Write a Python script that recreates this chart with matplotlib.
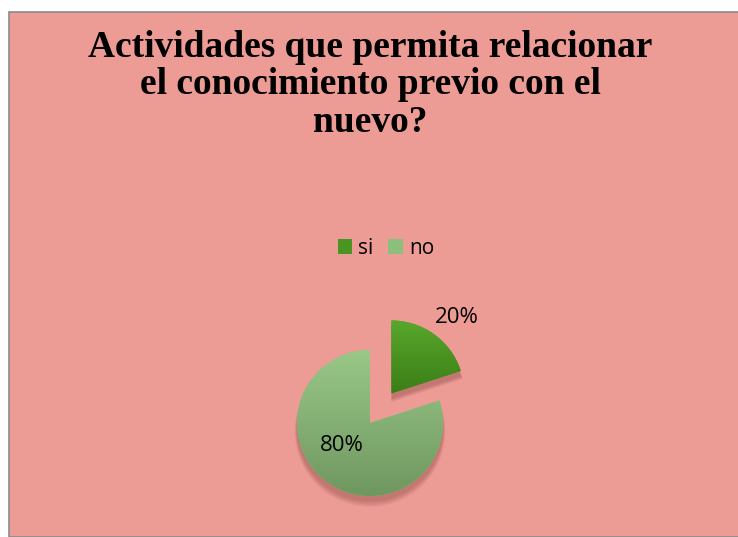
import matplotlib
matplotlib.use("Agg")
import matplotlib.pyplot as plt
import numpy as np
from matplotlib.patches import Rectangle, Wedge, Patch

categorias = ["si", "no"]
valores = [20, 80]
etiquetas = ["20%", "80%"]
titulo = "Actividades que permita relacionar\nel conocimiento previo con el\nnuevo?"

fondo = "#ED9C95"
col_top = ["#58A82C", "#99C888"]
col_bot = ["#3B7E17", "#6F9760"]
col_leg = ["#4A9424", "#8DBF7C"]

W, H = 738, 537
fig = plt.figure(figsize=(W / 100, H / 100), dpi=100)
fig.patch.set_facecolor("white")

# marco rosa
fig.patches.append(Rectangle((9 / W, 0), 1, 1 - 12 / H, transform=fig.transFigure,
                             facecolor=fondo, edgecolor="#8A8A8A", linewidth=1.2,
                             zorder=-5))

fig.text(370 / W, 1 - 85 / H, titulo, ha="center", va="center", fontsize=27,
         fontweight="bold", family="Liberation Serif", linespacing=1.08)

# pie: centro de la parte "no" en (370, 423) px, radio 73 px
r_px = 73
cx, cy = 370, H - 423
half = 160
ax = fig.add_axes([(cx - half) / W, (cy - half) / H, 2 * half / W, 2 * half / H])
ax.set_aspect("equal")
ax.axis("off")

wedges, _ = ax.pie(valores, explode=[0.5, 0], startangle=90, counterclock=False,
                   radius=1, colors=col_leg, wedgeprops=dict(linewidth=0))

# sombra suave, sobre todo hacia abajo
for w in wedges:
    for k in range(6):
        s = Wedge((w.center[0], w.center[1] - 0.07 - 0.01 * k), w.r + 0.006 * k,
                  w.theta1, w.theta2, facecolor="#7A3A36", alpha=0.07,
                  linewidth=0, zorder=0)
        ax.add_patch(s)

# degradado vertical dentro de cada porción
for w, ct, cb in zip(wedges, col_top, col_bot):
    w.set_zorder(1)
    bb = w.get_path().get_extents(w.get_patch_transform())
    c1 = np.array(matplotlib.colors.to_rgb(ct))
    c2 = np.array(matplotlib.colors.to_rgb(cb))
    t = np.linspace(0, 1, 128)[:, None]
    grad = (c1 * (1 - t) + c2 * t)[:, None, :]
    im = ax.imshow(grad, extent=[bb.x0, bb.x1, bb.y0, bb.y1], origin="upper",
                   aspect="auto", zorder=2)
    im.set_clip_path(w)
ax.set_xlim(-half / r_px, half / r_px)
ax.set_ylim(-half / r_px, half / r_px)

# etiquetas de porcentaje
dist = [1.37, 0.49]
angs = [49, 218]
for w, lab, d, a in zip(wedges, etiquetas, dist, angs):
    ang = np.deg2rad(a)
    ax.text(w.center[0] + d * np.cos(ang), w.center[1] + d * np.sin(ang), lab,
            ha="center", va="center", fontsize=16, family="Open Sans", zorder=3)

handles = [Patch(facecolor=c, edgecolor="none") for c in col_leg]
fig.legend(handles, categorias, loc="center", bbox_to_anchor=(386 / W, 1 - 248 / H),
           ncol=2, frameon=False, handlelength=0.7, handleheight=0.7,
           handletextpad=0.3, columnspacing=0.7, prop=dict(family="Open Sans", size=15))

fig.savefig("out.png", dpi=100, facecolor="white")
